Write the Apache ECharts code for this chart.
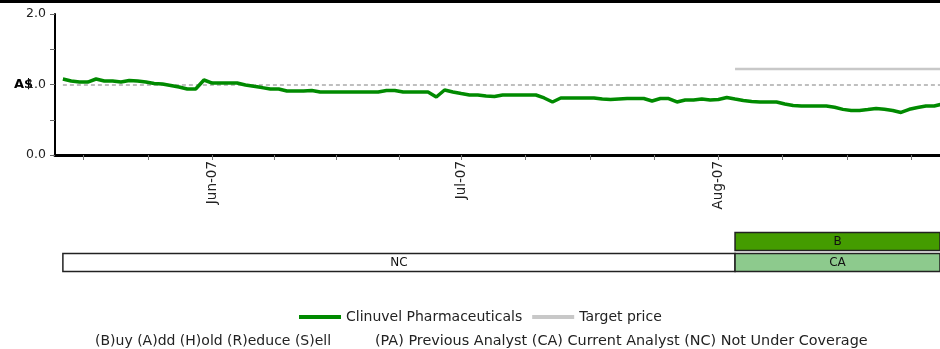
<!DOCTYPE html>
<html>
<head>
<meta charset="utf-8">
<script src="https://cdn.jsdelivr.net/npm/echarts@6/dist/echarts.min.js"></script>
<style>
html,body{margin:0;padding:0;background:#fff;}
#chart{width:940px;height:349px;}
</style>
</head>
<body>
<div id="chart"></div>
<script>
// ---- data ----
const seriesName = 'Clinuvel Pharmaceuticals';
const targetName = 'Target price';
const priceStart = [2007, 4, 14]; // 14 May 2007, daily values follow
const prices = [
  1.078,1.05,1.035,1.035,1.078,1.05,1.05,1.035,1.057,1.05,1.035,1.014,1.007,0.986,0.965,0.936,0.936,1.064,
  1.021,1.021,1.021,1.021,0.993,0.974,0.956,0.936,0.936,0.908,0.908,0.908,0.915,0.894,0.894,0.894,0.894,0.894,
  0.894,0.894,0.894,0.915,0.915,0.894,0.894,0.894,0.894,0.823,0.922,0.894,
  0.872,0.851,0.851,0.837,0.83,0.851,0.851,0.851,0.851,0.851,0.809,0.752,0.809,0.809,0.809,0.809,0.809,0.794,
  0.787,0.794,0.801,0.801,0.801,0.766,0.801,0.801,0.752,0.78,0.78,0.794,0.78,
  0.787,0.816,0.794,0.774,0.759,0.752,0.752,0.752,0.723,0.702,0.695,0.695,0.695,0.695,0.677,0.647,0.631,0.631,
  0.645,0.66,0.648,0.631,0.603,0.648,0.674,0.695,0.695,0.723
];
const targetDates = [[2007, 7, 3], [2007, 7, 28]];
const targetValues = [1.22, 1.22];
const referenceLevel = 1.0;
const monthLabels = [[2007, 5, 1], [2007, 6, 1], [2007, 7, 1]];
const minorTickDays = [[2007,4,16.5],[2007,4,24.25],[2007,5,1],[2007,5,8.5],[2007,5,16],[2007,5,23.5],
  [2007,6,1],[2007,6,8.75],[2007,6,16.5],[2007,6,24.25],[2007,7,1],[2007,7,8.75],[2007,7,16.5],[2007,7,24.25]];
const yTicks = [0, 0.5, 1, 1.5, 2];
const yLabels = [0, 1, 2];
const ratingLabels = ['NC', 'CA', 'B'];
const ratingStarts = [[2007, 4, 14], [2007, 7, 3], [2007, 7, 3]];
const ratingEnds = [[2007, 7, 3], [2007, 7, 28], [2007, 7, 28]];
const ratingRows = [0, 0, 1];
const axisMin = [2007, 4, 13.05];
const axisMax = [2007, 7, 27.7];
const legendNote1 = '(B)uy (A)dd (H)old (R)educe (S)ell';
const legendNote2 = '(PA) Previous Analyst (CA) Current Analyst (NC) Not Under Coverage';

// ---- helpers ----
const DAY = 86400000;
function ts(a) { return Date.UTC(a[0], a[1], 1) + (a[2] - 1) * DAY; }
const MONTHS = ['Jan','Feb','Mar','Apr','May','Jun','Jul','Aug','Sep','Oct','Nov','Dec'];
const xMin = ts(axisMin), xMax = ts(axisMax);
const start = ts(priceStart);
const priceData = prices.map((v, i) => [start + i * DAY, v]);
const targetData = targetDates.map((d, i) => [ts(d), targetValues[i]]);
const ratingColors = { NC: '#ffffff', CA: '#8dca8d', B: '#449c00' };
const ratingData = ratingLabels.map((l, i) => [ts(ratingStarts[i]), ts(ratingEnds[i]), ratingRows[i]]);

const FONT = 'DejaVu Sans';
const chart = echarts.init(document.getElementById('chart'));
chart.setOption({
  animation: false,
  textStyle: { fontFamily: FONT },
  legend: {
    left: 294, top: 305, itemWidth: 42, itemHeight: 4, itemGap: 10,
    textStyle: { fontFamily: FONT, fontSize: 14, color: '#222' },
    data: [{ name: seriesName, icon: 'rect' }, { name: targetName, icon: 'rect' }]
  },
  graphic: [
    { type: 'rect', left: 0, top: 0, shape: { width: 940, height: 3 }, style: { fill: '#000' } },
    { type: 'text', left: 95, top: 334, style: { text: legendNote1, font: '14px "DejaVu Sans"', fill: '#222' } },
    { type: 'text', left: 375, top: 334, style: { text: legendNote2, font: '14.4px "DejaVu Sans"', fill: '#222' } }
  ],
  grid: [
    { left: 55, right: 0, top: 14, height: 141 },
    { left: 55, right: 0, top: 231, height: 42 }
  ],
  xAxis: [
    {
      type: 'value', gridIndex: 0, min: xMin, max: xMax, scale: true,
      axisLine: { lineStyle: { color: '#000', width: 3 } },
      axisTick: { show: true, length: 5, lineStyle: { color: '#777', width: 1 },
        customValues: minorTickDays.map(ts) },
      axisLabel: {
        customValues: monthLabels.map(ts), rotate: 90, margin: 6,
        fontSize: 13.5, color: '#222', fontFamily: FONT,
        formatter: v => { const d = new Date(v); return MONTHS[d.getUTCMonth()] + '-' + String(d.getUTCFullYear()).slice(2); }
      },
      splitLine: { show: false }
    },
    {
      type: 'value', gridIndex: 1, min: xMin, max: xMax, scale: true, show: false, splitLine: { show: false }
    }
  ],
  yAxis: [
    {
      type: 'value', gridIndex: 0, min: 0, max: 2, interval: 0.5,
      name: 'A$', nameLocation: 'middle', nameRotate: 0, nameGap: 22, nameMoveOverlap: false,
      nameTextStyle: { fontWeight: 'bold', fontSize: 13, color: '#000', fontFamily: FONT, align: 'right', verticalAlign: 'middle' },
      axisLine: { show: true, lineStyle: { color: '#000', width: 2 } },
      axisTick: { show: true, length: 5, lineStyle: { color: '#666' }, customValues: yTicks },
      axisLabel: { customValues: yLabels, fontSize: 12.5, color: '#222', margin: 9, fontFamily: FONT,
        formatter: v => v.toFixed(1) },
      splitLine: { show: false }
    },
    {
      type: 'category', gridIndex: 1, data: ['row0', 'row1'], show: false
    }
  ],
  series: [
    {
      name: seriesName, type: 'line', xAxisIndex: 0, yAxisIndex: 0,
      data: priceData, symbol: 'none', showSymbol: false,
      lineStyle: { color: '#008a00', width: 3.5 }, itemStyle: { color: '#008a00' },
      z: 5,
      markLine: {
        silent: true, symbol: 'none', label: { show: false },
        lineStyle: { color: '#aaa', width: 1.5, type: [4, 3] },
        data: [[{ coord: [start, referenceLevel] }, { coord: [xMax, referenceLevel] }]]
      }
    },
    {
      name: targetName, type: 'line', xAxisIndex: 0, yAxisIndex: 0,
      data: targetData, symbol: 'none', showSymbol: false,
      lineStyle: { color: '#c8c8c8', width: 2.5 }, itemStyle: { color: '#c8c8c8' }, z: 4
    },
    {
      type: 'custom', xAxisIndex: 1, yAxisIndex: 1,
      data: ratingData,
      encode: { x: [0, 1], y: 2 },
      renderItem: function (params, api) {
        const s = api.coord([api.value(0), api.value(2)]);
        const e = api.coord([Math.min(api.value(1), xMax), api.value(2)]);
        const h = 18;
        const label = ratingLabels[params.dataIndex];
        return {
          type: 'group',
          children: [
            { type: 'rect', shape: { x: s[0], y: s[1] - h / 2, width: e[0] - s[0], height: h },
              style: { fill: ratingColors[label], stroke: '#222', lineWidth: 1.5 } },
            { type: 'text', style: { text: label, x: (s[0] + e[0]) / 2, y: s[1], align: 'center', verticalAlign: 'middle',
              font: '12px "DejaVu Sans"', fill: '#111' } }
          ]
        };
      }
    }
  ]
});
</script>
</body>
</html>
